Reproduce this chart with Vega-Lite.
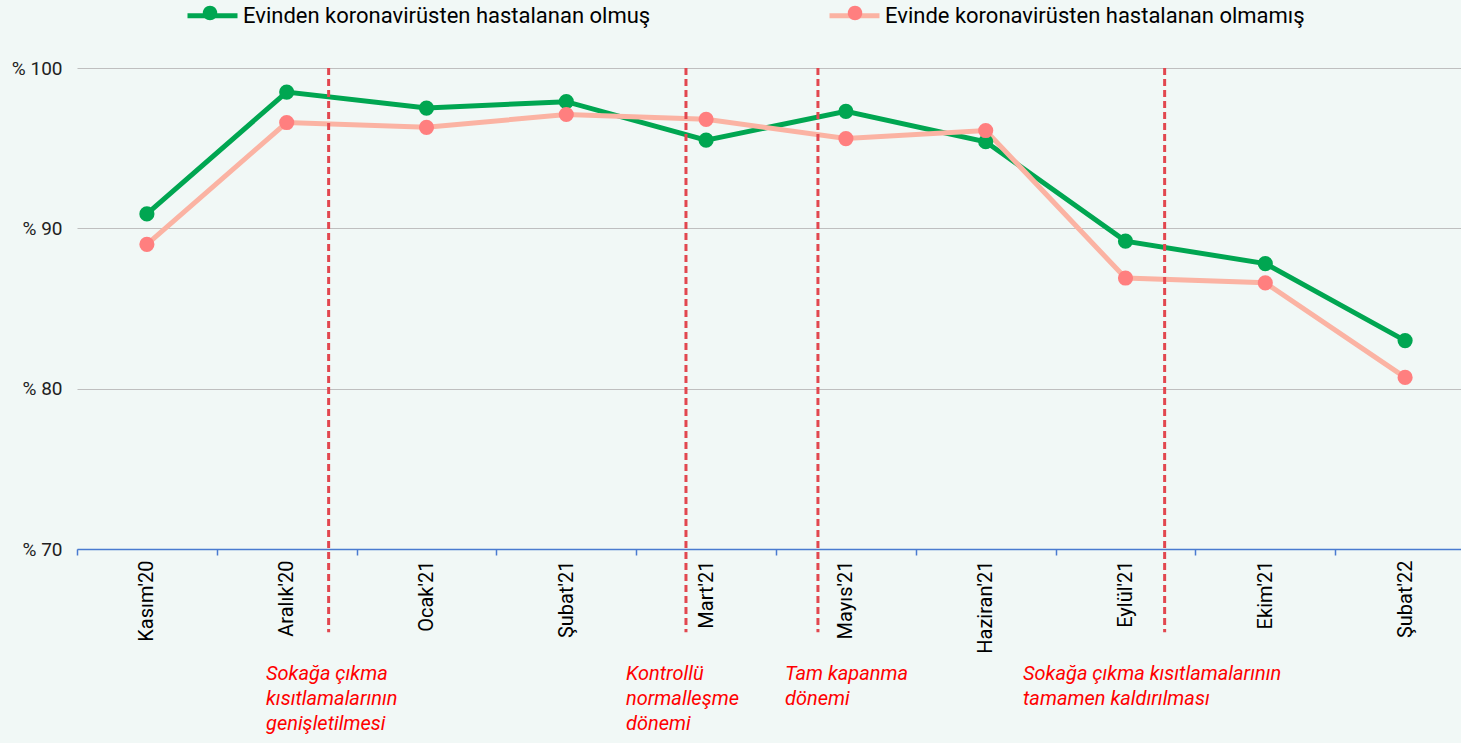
{
  "$schema": "https://vega.github.io/schema/vega-lite/v6.json",
  "width": 1384,
  "height": 481,
  "autosize": {"type": "none"},
  "padding": {"left": 77, "top": 68, "right": 0, "bottom": 194},
  "background": "#f1f8f6",
  "config": {"view": {"stroke": null}, "font": "Roboto"},
  "datasets": {
    "seriler": [
      {"ay": "Kasım'20", "seri": "Evinden koronavirüsten hastalanan olmuş", "deger": 90.9},
      {"ay": "Aralık'20", "seri": "Evinden koronavirüsten hastalanan olmuş", "deger": 98.5},
      {"ay": "Ocak'21", "seri": "Evinden koronavirüsten hastalanan olmuş", "deger": 97.5},
      {"ay": "Şubat'21", "seri": "Evinden koronavirüsten hastalanan olmuş", "deger": 97.9},
      {"ay": "Mart'21", "seri": "Evinden koronavirüsten hastalanan olmuş", "deger": 95.5},
      {"ay": "Mayıs'21", "seri": "Evinden koronavirüsten hastalanan olmuş", "deger": 97.3},
      {"ay": "Haziran'21", "seri": "Evinden koronavirüsten hastalanan olmuş", "deger": 95.4},
      {"ay": "Eylül'21", "seri": "Evinden koronavirüsten hastalanan olmuş", "deger": 89.2},
      {"ay": "Ekim'21", "seri": "Evinden koronavirüsten hastalanan olmuş", "deger": 87.8},
      {"ay": "Şubat'22", "seri": "Evinden koronavirüsten hastalanan olmuş", "deger": 83.0},
      {"ay": "Kasım'20", "seri": "Evinde koronavirüsten hastalanan olmamış", "deger": 89.0},
      {"ay": "Aralık'20", "seri": "Evinde koronavirüsten hastalanan olmamış", "deger": 96.6},
      {"ay": "Ocak'21", "seri": "Evinde koronavirüsten hastalanan olmamış", "deger": 96.3},
      {"ay": "Şubat'21", "seri": "Evinde koronavirüsten hastalanan olmamış", "deger": 97.1},
      {"ay": "Mart'21", "seri": "Evinde koronavirüsten hastalanan olmamış", "deger": 96.8},
      {"ay": "Mayıs'21", "seri": "Evinde koronavirüsten hastalanan olmamış", "deger": 95.6},
      {"ay": "Haziran'21", "seri": "Evinde koronavirüsten hastalanan olmamış", "deger": 96.1},
      {"ay": "Eylül'21", "seri": "Evinde koronavirüsten hastalanan olmamış", "deger": 86.9},
      {"ay": "Ekim'21", "seri": "Evinde koronavirüsten hastalanan olmamış", "deger": 86.6},
      {"ay": "Şubat'22", "seri": "Evinde koronavirüsten hastalanan olmamış", "deger": 80.7}
    ],
    "olaylar": [
      {"konum": 1.80, "ust": 100, "alt": 64.8},
      {"konum": 4.356, "ust": 100, "alt": 64.8},
      {"konum": 5.30, "ust": 100, "alt": 64.8},
      {"konum": 7.78, "ust": 100, "alt": 64.8}
    ],
    "notlar": [
      {"konum": 1.352, "y": 62.8, "metin": "Sokağa çıkma\nkısıtlamalarının\ngenişletilmesi"},
      {"konum": 3.927, "y": 62.8, "metin": "Kontrollü\nnormalleşme\ndönemi"},
      {"konum": 5.064, "y": 62.8, "metin": "Tam kapanma\ndönemi"},
      {"konum": 6.767, "y": 62.8, "metin": "Sokağa çıkma kısıtlamalarının\ntamamen kaldırılması"}
    ]
  },
  "layer": [
    {
      "data": {"name": "seriler"},
      "encoding": {
        "x": {
          "field": "ay",
          "type": "nominal",
          "sort": ["Kasım'20", "Aralık'20", "Ocak'21", "Şubat'21", "Mart'21", "Mayıs'21", "Haziran'21", "Eylül'21", "Ekim'21", "Şubat'22"],
          "scale": {"type": "band", "range": [0, 1398], "paddingInner": 0, "paddingOuter": 0},
          "axis": {
            "title": null,
            "labelAngle": -90,
            "labelFontSize": 20,
            "labelColor": "#000000",
            "labelPadding": 5,
            "domainColor": "#4a7bd0",
            "domainWidth": 1.5,
            "tickColor": "#4a7bd0",
            "tickWidth": 1.5,
            "tickSize": 6,
            "tickBand": "extent",
            "grid": false
          }
        },
        "y": {
          "field": "deger",
          "type": "quantitative",
          "scale": {"domain": [70, 100], "nice": false, "zero": false},
          "axis": {
            "title": null,
            "values": [70, 80, 90, 100],
            "labelExpr": "'% ' + datum.value",
            "labelFontSize": 19,
            "labelColor": "#222222",
            "labelPadding": 15,
            "domain": false,
            "ticks": false,
            "gridColor": "#bfbfbf",
            "gridWidth": 1
          }
        }
      },
      "layer": [
        {
          "mark": {"type": "line", "strokeWidth": 5},
          "encoding": {
            "stroke": {
              "field": "seri",
              "type": "nominal",
              "scale": {
                "domain": ["Evinden koronavirüsten hastalanan olmuş", "Evinde koronavirüsten hastalanan olmamış"],
                "range": ["#00a651", "#fbb3a3"]
              },
              "legend": {
                "title": null,
                "orient": "none",
                "legendX": 108,
                "legendY": -80,
                "direction": "horizontal",
                "columns": 2,
                "columnPadding": 168,
                "padding": 0,
                "symbolType": "stroke",
                "symbolSize": 2500,
                "symbolStrokeWidth": 5,
                "labelFontSize": 22,
                "labelColor": "#000000",
                "labelOffset": 3,
                "labelLimit": 600
              }
            }
          }
        },
        {
          "mark": {"type": "point", "filled": true, "size": 230, "opacity": 1, "strokeWidth": 0},
          "encoding": {
            "fill": {
              "field": "seri",
              "type": "nominal",
              "sort": "descending",
              "scale": {"range": ["#00a651", "#ff7f7f"]},
              "legend": {
                "title": null,
                "orient": "none",
                "legendX": 108,
                "legendY": -80,
                "direction": "horizontal",
                "columns": 2,
                "columnPadding": 592,
                "padding": 0,
                "symbolType": "M -0.29,0 A 0.29,0.29 0 1,1 0.29,0 A 0.29,0.29 0 1,1 -0.29,0 Z",
                "symbolSize": 2500,
                "symbolStrokeWidth": 0,
                "symbolOpacity": 1,
                "labelExpr": "''",
                "labelFontSize": 22,
                "labelOffset": 3
              }
            }
          }
        }
      ]
    },
    {
      "layer": [
        {
          "data": {"name": "olaylar"},
          "mark": {"type": "rule", "color": "#e2474f", "strokeWidth": 3, "strokeDash": [7, 4]},
          "encoding": {
            "x": {"field": "konum", "type": "quantitative", "scale": {"domain": [0, 10], "range": [0, 1398], "nice": false, "zero": false}, "axis": null},
            "y": {"field": "ust", "type": "quantitative", "scale": {"domain": [70, 100], "nice": false, "zero": false}},
            "y2": {"field": "alt"}
          }
        },
        {
          "data": {"name": "notlar"},
          "mark": {"type": "text", "align": "left", "baseline": "top", "fontStyle": "italic", "fontSize": 20, "lineHeight": 25, "lineBreak": "\n", "color": "#ff0000"},
          "encoding": {
            "x": {"field": "konum", "type": "quantitative", "scale": {"domain": [0, 10], "range": [0, 1398], "nice": false, "zero": false}, "axis": null},
            "y": {"field": "y", "type": "quantitative", "scale": {"domain": [70, 100], "nice": false, "zero": false}},
            "text": {"field": "metin"}
          }
        }
      ]
    }
  ],
  "resolve": {"scale": {"x": "independent"}}
}
